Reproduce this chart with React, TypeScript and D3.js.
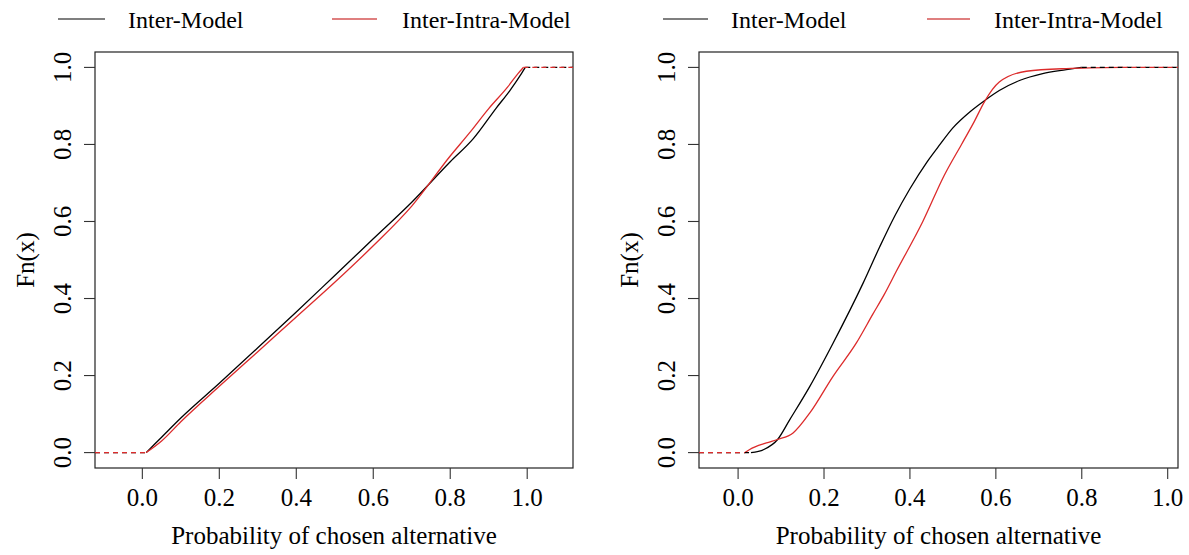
import React, { useEffect, useRef } from "react";
import * as d3 from "d3";

// tick values shared by both panels
const xTicks = [0, 0.2, 0.4, 0.6, 0.8, 1.0];
const yTicks = [0, 0.2, 0.4, 0.6, 0.8, 1.0];
const seriesNames = ["Inter-Model", "Inter-Intra-Model"];

// left panel, ECDF
const leftInterX = [0.01, 0.05, 0.1, 0.2, 0.3, 0.4, 0.5, 0.6, 0.7, 0.8, 0.86, 0.92, 0.955, 0.985, 0.995];
const leftInterY = [0, 0.04, 0.09, 0.18, 0.272, 0.365, 0.46, 0.555, 0.65, 0.755, 0.815, 0.895, 0.94, 0.984, 1.0];
const leftIntraX = [0.01, 0.05, 0.1, 0.2, 0.3, 0.4, 0.5, 0.6, 0.7, 0.8, 0.85, 0.9, 0.95, 0.976, 0.99];
const leftIntraY = [0, 0.03, 0.08, 0.172, 0.262, 0.352, 0.442, 0.537, 0.64, 0.77, 0.83, 0.893, 0.95, 0.984, 1.0];

// right panel
const rightInterX = [0.03, 0.06, 0.092, 0.12, 0.167, 0.221, 0.291, 0.33, 0.365, 0.4, 0.44, 0.47, 0.5, 0.54, 0.574, 0.608, 0.655, 0.709, 0.764, 0.8];
const rightInterY = [0, 0.008, 0.034, 0.085, 0.172, 0.284, 0.44, 0.535, 0.615, 0.685, 0.755, 0.8, 0.843, 0.885, 0.914, 0.94, 0.966, 0.984, 0.994, 1.0];
const rightIntraX = [0.016, 0.027, 0.066, 0.092, 0.128, 0.167, 0.221, 0.275, 0.314, 0.34, 0.368, 0.43, 0.48, 0.52, 0.55, 0.574, 0.608, 0.671, 0.764, 0.895];
const rightIntraY = [0, 0.008, 0.025, 0.034, 0.051, 0.103, 0.198, 0.284, 0.36, 0.41, 0.47, 0.6, 0.72, 0.8, 0.86, 0.912, 0.962, 0.99, 0.997, 1.0];

const W = 1189;
const H = 555;
const FONT = "'Liberation Serif', 'Times New Roman', serif";
const BLACK = "#000000";
const RED = "#dc2b2b";

type Panel = {
  left: number;
  right: number;
  xDomain: [number, number];
  series: { xs: number[]; ys: number[]; color: string }[];
  legend: { line: [number, number]; text: number }[];
};

const panels: Panel[] = [
  {
    left: 95,
    right: 573,
    xDomain: [-0.123, 1.119],
    series: [
      { xs: leftInterX, ys: leftInterY, color: BLACK },
      { xs: leftIntraX, ys: leftIntraY, color: RED },
    ],
    legend: [
      { line: [58, 105], text: 128 },
      { line: [332, 377], text: 402 },
    ],
  },
  {
    left: 699,
    right: 1178,
    xDomain: [-0.091, 1.024],
    series: [
      { xs: rightInterX, ys: rightInterY, color: BLACK },
      { xs: rightIntraX, ys: rightIntraY, color: RED },
    ],
    legend: [
      { line: [663, 708], text: 731 },
      { line: [927, 970], text: 994 },
    ],
  },
];

const App = () => {
  const ref = useRef<SVGSVGElement>(null);

  useEffect(() => {
    const svg = d3.select(ref.current);
    svg.selectAll("*").remove();

    const top = 52;
    const bottom = 468;
    const y = d3.scaleLinear().domain([-0.04, 1.04]).range([bottom, top]);

    panels.forEach((p) => {
      const x = d3.scaleLinear().domain(p.xDomain).range([p.left, p.right]);
      const g = svg.append("g");

      // frame
      g.append("rect")
        .attr("x", p.left)
        .attr("y", top)
        .attr("width", p.right - p.left)
        .attr("height", bottom - top)
        .attr("fill", "none")
        .attr("stroke", "#222")
        .attr("stroke-width", 1.2);

      // x axis
      const xa = g.append("g").attr("transform", `translate(0,${bottom})`);
      xa.selectAll("line")
        .data(xTicks)
        .join("line")
        .attr("x1", (d) => x(d))
        .attr("x2", (d) => x(d))
        .attr("y1", 0)
        .attr("y2", 11)
        .attr("stroke", "#333")
        .attr("stroke-width", 1.1);
      xa.selectAll("text")
        .data(xTicks)
        .join("text")
        .attr("x", (d) => x(d))
        .attr("y", 38)
        .attr("text-anchor", "middle")
        .style("font-family", FONT)
        .style("font-size", "25px")
        .text((d) => d.toFixed(1));

      // y axis
      const ya = g.append("g").attr("transform", `translate(${p.left},0)`);
      ya.selectAll("line")
        .data(yTicks)
        .join("line")
        .attr("x1", -11)
        .attr("x2", 0)
        .attr("y1", (d) => y(d))
        .attr("y2", (d) => y(d))
        .attr("stroke", "#333")
        .attr("stroke-width", 1.1);
      ya.selectAll("text")
        .data(yTicks)
        .join("text")
        .attr("transform", (d) => `translate(-24,${y(d)}) rotate(-90)`)
        .attr("text-anchor", "middle")
        .style("font-family", FONT)
        .style("font-size", "25px")
        .text((d) => d.toFixed(1));

      // axis titles
      g.append("text")
        .attr("x", (p.left + p.right) / 2)
        .attr("y", 544)
        .attr("text-anchor", "middle")
        .style("font-family", FONT)
        .style("font-size", "25px")
        .text("Probability of chosen alternative");
      g.append("text")
        .attr("transform", `translate(${p.left - 61},${(top + bottom) / 2}) rotate(-90)`)
        .attr("text-anchor", "middle")
        .style("font-family", FONT)
        .style("font-size", "25px")
        .text("Fn(x)");

      // curves
      const line = d3
        .line<[number, number]>()
        .x((d) => x(d[0]))
        .y((d) => y(d[1]))
        .curve(d3.curveMonotoneX);

      p.series.forEach((s) => {
        const pts = s.xs.map((v, i) => [v, s.ys[i]] as [number, number]);
        g.append("path")
          .attr("d", line(pts))
          .attr("fill", "none")
          .attr("stroke", s.color)
          .attr("stroke-width", 1.3);
      });

      // flat dashed tails of the step functions
      p.series.forEach((s) => {
        const tails: [number, number, number][] = [
          [p.xDomain[0], s.xs[0], 0],
          [s.xs[s.xs.length - 1], p.xDomain[1], 1],
        ];
        tails.forEach((t) => {
          g.append("line")
            .attr("x1", x(t[0]))
            .attr("x2", x(t[1]))
            .attr("y1", y(t[2]))
            .attr("y2", y(t[2]))
            .attr("stroke", s.color)
            .attr("stroke-width", 1.3)
            .attr("stroke-dasharray", "5,4");
        });
      });

      // legend
      p.legend.forEach((l, i) => {
        g.append("line")
          .attr("x1", l.line[0])
          .attr("x2", l.line[1])
          .attr("y1", 19)
          .attr("y2", 19)
          .attr("stroke", i === 0 ? "#555" : "#d45555")
          .attr("stroke-width", 1.3);
        g.append("text")
          .attr("x", l.text)
          .attr("y", 28)
          .style("font-family", FONT)
          .style("font-size", "24px")
          .text(seriesNames[i]);
      });
    });
  }, []);

  return (
    <div id="chartD3" style={{ position: "absolute", left: 0, top: 0 }}>
      <svg ref={ref} width={W} height={H} style={{ display: "block", background: "#fff" }}></svg>
    </div>
  );
};

export default App;
